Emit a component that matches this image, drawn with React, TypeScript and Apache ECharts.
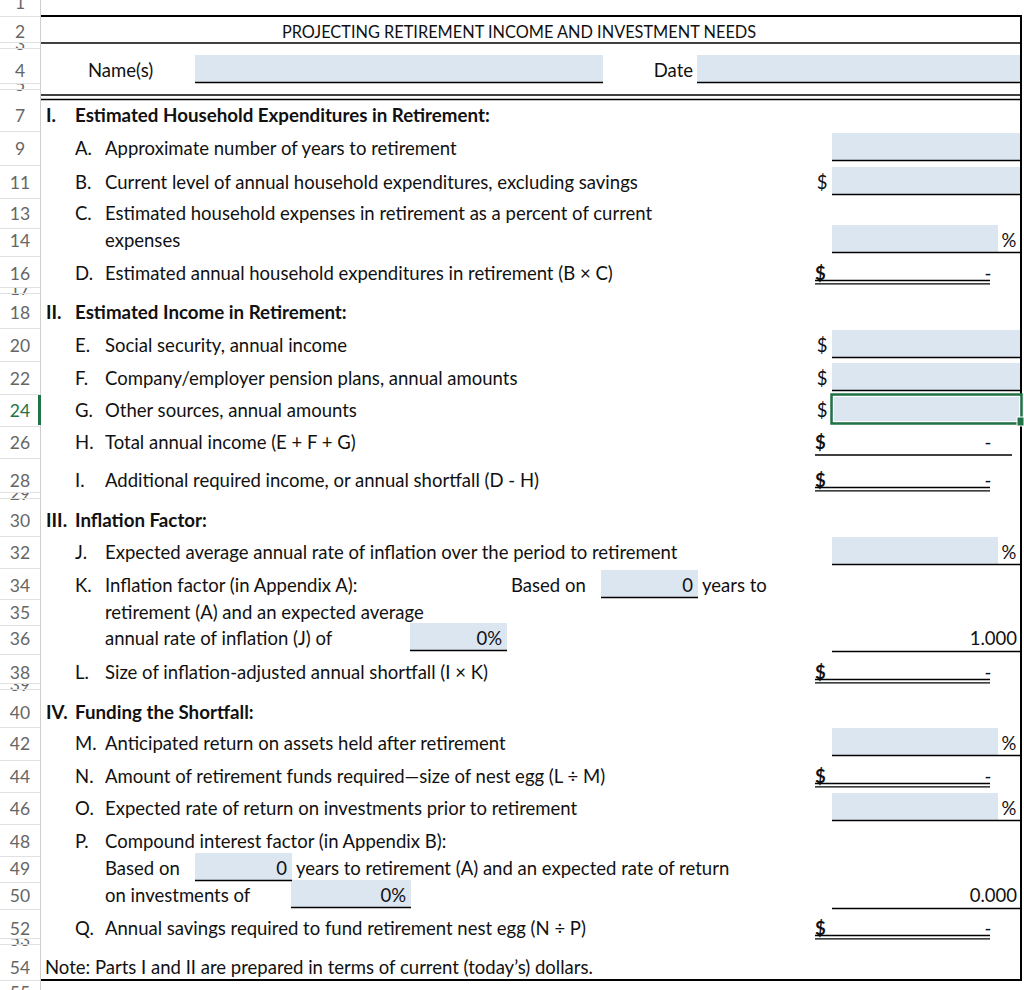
import React, { useEffect, useRef } from "react";
import * as echarts from "echarts";

// ---------------- data ----------------
const title = "PROJECTING RETIREMENT INCOME AND INVESTMENT NEEDS";
const nameLabel = "Name(s)";
const dateLabel = "Date";
const note = "Note: Parts I and II are prepared in terms of current (today\u2019s) dollars.";

const headerRows = [1, 2, 4, 7, 9, 11, 13, 14, 16, 18, 20, 22, 24, 26, 28, 30, 32, 34, 35, 36, 38, 40, 42, 44, 46, 48, 49, 50, 52, 54, 55];
const tinyRows = [3, 5, 17, 29, 39, 53];
const selectedRow = 24;

const sectionRows = [7, 18, 30, 40];
const sectionNums = ["I.", "II.", "III.", "IV."];
const sectionTitles = [
  "Estimated Household Expenditures in Retirement:",
  "Estimated Income in Retirement:",
  "Inflation Factor:",
  "Funding the Shortfall:",
];

const itemRows = [9, 11, 13, 14, 16, 20, 22, 24, 26, 28, 32, 34, 35, 36, 38, 42, 44, 46, 48, 49, 50, 52];
const itemLetters = ["A.", "B.", "C.", "", "D.", "E.", "F.", "G.", "H.", "I.", "J.", "K.", "", "", "L.", "M.", "N.", "O.", "P.", "", "", "Q."];
const itemTexts = [
  "Approximate number of years to retirement",
  "Current level of annual household expenditures, excluding savings",
  "Estimated household expenses in retirement as a percent of current",
  "expenses",
  "Estimated annual household expenditures in retirement (B \u00d7 C)",
  "Social security, annual income",
  "Company/employer pension plans, annual amounts",
  "Other sources, annual amounts",
  "Total annual income (E + F + G)",
  "Additional required income, or annual shortfall (D - H)",
  "Expected average annual rate of inflation over the period to retirement",
  "Inflation factor (in Appendix A):",
  "retirement (A) and an expected average",
  "annual rate of inflation (J) of",
  "Size of inflation-adjusted annual shortfall (I \u00d7 K)",
  "Anticipated return on assets held after retirement",
  "Amount of retirement funds required\u2014size of nest egg (L \u00f7 M)",
  "Expected rate of return on investments prior to retirement",
  "Compound interest factor (in Appendix B):",
  "Based on",
  "on investments of",
  "Annual savings required to fund retirement nest egg (N \u00f7 P)",
];

const fieldRows = [9, 11, 14, 16, 20, 22, 24, 26, 28, 32, 36, 38, 42, 44, 46, 50, 52];
const fieldKinds = ["input", "input$", "input%", "double$", "input$", "input$", "selected$", "single$", "double$", "input%", "factor", "double$", "input%", "double$", "input%", "factor", "double$"];
const fieldValues = ["", "", "", "-", "", "", "", "-", "-", "", "1.000", "-", "", "-", "", "0.000", "-"];

const inlineRows = [34, 36, 49, 50];
const inlineValues = ["0", "0%", "0", "0%"];
const inlineBefore = ["Based on", "", "", ""];
const inlineAfter = ["years to", "", "years to retirement (A) and an expected rate of return", ""];

// ---------------- layout ----------------
const rowCenter: Record<number, number> = {
  1: 2, 2: 31, 4: 70, 7: 115, 9: 148, 11: 182, 13: 213, 14: 240, 16: 273, 18: 312,
  20: 345, 22: 378, 24: 410, 26: 442, 28: 480, 30: 520, 32: 552, 34: 585, 35: 612,
  36: 638, 38: 672, 40: 712, 42: 743, 44: 776, 46: 808, 48: 841, 49: 868, 50: 895,
  52: 928, 54: 967, 55: 992,
};
const tinyBand: Record<number, [number, number]> = {
  3: [42, 48], 5: [83, 89], 17: [287, 293], 29: [492, 498], 39: [683, 689], 53: [938, 944],
};
const headerLines = [16, 42, 48, 83, 89, 131, 165, 198, 228, 256, 287, 293, 328, 361, 394, 426, 458, 492, 498, 536, 568, 599, 625, 654, 683, 689, 727, 760, 792, 824, 856, 882, 909, 938, 944, 980];
const inlineBox: [number, number][] = [[601, 698], [410, 507], [195, 292], [291, 411]];

const FAMILY = "Lato, 'Open Sans', sans-serif";
const BLUE = "#dce6f1";
const INK = "#111111";
const GREEN = "#217346";

function fit(text: string, weight: string, target: number, fallback: number): number {
  const c = document.createElement("canvas").getContext("2d");
  if (!c) return fallback;
  c.font = `${weight} 100px Lato`;
  const w = c.measureText(text).width;
  if (!w) return fallback;
  return Math.max(12, Math.min(21, (100 * target) / w));
}

export default function App() {
  const ref = useRef<HTMLDivElement>(null);
  useEffect(() => {
    document.body.style.margin = "0";
    if (!ref.current) return;
    const chart = echarts.init(ref.current, undefined, { renderer: "svg" });

    const body = fit(itemTexts[0], "normal", 353, 18.4);
    const bold = fit(sectionTitles[0], "bold", 415, 18.8);
    const titleSize = fit(title, "normal", 476, 16.5);
    const els: any[] = [];
    const txt = (s: string, x: number, y: number, o: any = {}) =>
      els.push({
        type: "text",
        z: o.z ?? 10,
        style: {
          text: s, x, y,
          fill: o.fill ?? INK,
          font: `${o.weight ?? "normal"} ${o.size ?? body}px ${o.family ?? FAMILY}`,
          textAlign: o.align ?? "left",
          textVerticalAlign: "middle",
        },
      });
    const line = (x1: number, y1: number, x2: number, y2: number, w = 1.5, c = "#000", z = 5) =>
      els.push({ type: "line", z, shape: { x1, y1, x2, y2 }, style: { stroke: c, lineWidth: w } });
    const rect = (x: number, y: number, w: number, h: number, fill: string, z = 2, stroke?: string, lw?: number) =>
      els.push({ type: "rect", z, shape: { x, y, width: w, height: h }, style: { fill, stroke: stroke ?? null, lineWidth: lw ?? 0 } });

    // background
    rect(0, 0, 1024, 990, "#ffffff", 0);

    // ---- row header ----
    const hdrFont = { family: "Lato, sans-serif", size: 17.5, fill: "#666666", align: "center" };
    tinyRows.forEach((r) => {
      const [t, b] = tinyBand[r];
      txt(String(r), 20, b - 5, { ...hdrFont, z: 3 });
      rect(0, t - 15, 40, 15, "#ffffff", 4);
    });
    headerLines.forEach((y) => line(0, y + 0.5, 40, y + 0.5, 1, "#e1e1e1", 6));
    line(40.5, 0, 40.5, 990, 1, "#cfcfcf", 6);
    headerRows.forEach((r) => {
      txt(String(r), 20, rowCenter[r], { ...hdrFont, z: 7, fill: r === selectedRow ? GREEN : "#666666" });
    });
    rect(38, 395, 3, 30, GREEN, 8);

    // ---- frame ----
    line(41, 16, 1022, 16, 2);
    line(41, 43, 1022, 43, 1.5);
    line(41, 95, 1022, 95, 1.5);
    line(41, 99.5, 1022, 99.5, 1.5);
    line(1021, 15, 1021, 981, 2);
    line(41, 980, 1022, 980, 2);

    // title / name
    txt(title, 519, rowCenter[2], { size: titleSize, align: "center" });
    txt(nameLabel, 88, rowCenter[4]);
    rect(195, 55, 408, 27, BLUE);
    line(195, 82.5, 603, 82.5, 1.5);
    txt(dateLabel, 693, rowCenter[4], { align: "right" });
    rect(697, 55, 323, 27, BLUE);
    line(697, 82.5, 1020, 82.5, 1.5);

    // sections
    sectionRows.forEach((r, i) => {
      txt(sectionNums[i], 46, rowCenter[r], { weight: "bold", size: bold });
      txt(sectionTitles[i], 75, rowCenter[r], { weight: "bold", size: bold });
    });

    // items
    itemRows.forEach((r, i) => {
      if (itemLetters[i]) txt(itemLetters[i], 75, rowCenter[r]);
      txt(itemTexts[i], 105, rowCenter[r]);
    });

    // right-hand fields
    fieldRows.forEach((r, i) => {
      const k = fieldKinds[i];
      const cy = rowCenter[r];
      const v = fieldValues[i];
      if (k.startsWith("input") || k === "selected$") {
        const ul = cy + 12;
        const right = k === "input%" ? 998 : 1020;
        rect(832, ul - 27, right - 832, 27, BLUE);
        line(832, ul + 0.5, 1020, ul + 0.5, 1.5);
        if (k === "input%") txt("%", 1009, cy, { align: "center" });
        if (k.endsWith("$")) txt("$", 822, cy, { align: "center" });
        if (k === "selected$") {
          rect(831.5, 394.5, 190, 29, BLUE, 11, GREEN, 2.5);
          rect(833.5, 396.5, 186, 25, "none", 12, "#ffffff", 1);
          rect(1017, 417, 7, 9, GREEN, 13, "#ffffff", 1);
        }
      } else if (k === "double$") {
        txt("$", 815, cy, { weight: "bold" });
        txt(v, 988, cy, { align: "center" });
        line(815, cy + 7.5, 990, cy + 7.5, 1.3);
        line(815, cy + 10.8, 990, cy + 10.8, 1.3);
      } else if (k === "single$") {
        txt("$", 815, cy, { weight: "bold" });
        txt(v, 988, cy, { align: "center" });
        line(815, cy + 13, 1012, cy + 13, 1.5);
      } else if (k === "factor") {
        txt(v, 1017, cy, { align: "right" });
        line(832, cy + 13.5, 1020, cy + 13.5, 1.5);
      }
    });

    // inline fields
    inlineRows.forEach((r, i) => {
      const cy = rowCenter[r];
      const [x1, x2] = inlineBox[i];
      const ul = cy + 12;
      rect(x1, ul - 27, x2 - x1, 27, BLUE);
      line(x1, ul + 0.5, x2, ul + 0.5, 1.5);
      txt(inlineValues[i], x2 - 5, cy, { align: "right" });
      if (inlineBefore[i]) txt(inlineBefore[i], 511, cy);
      if (inlineAfter[i]) txt(inlineAfter[i], x2 + 4, cy);
    });

    // note
    txt(note, 45, rowCenter[54]);

    chart.setOption({ animation: false, graphic: { elements: els } });
    return () => chart.dispose();
  }, []);
  return <div ref={ref} style={{ width: 1024, height: 990 }} />;
}
